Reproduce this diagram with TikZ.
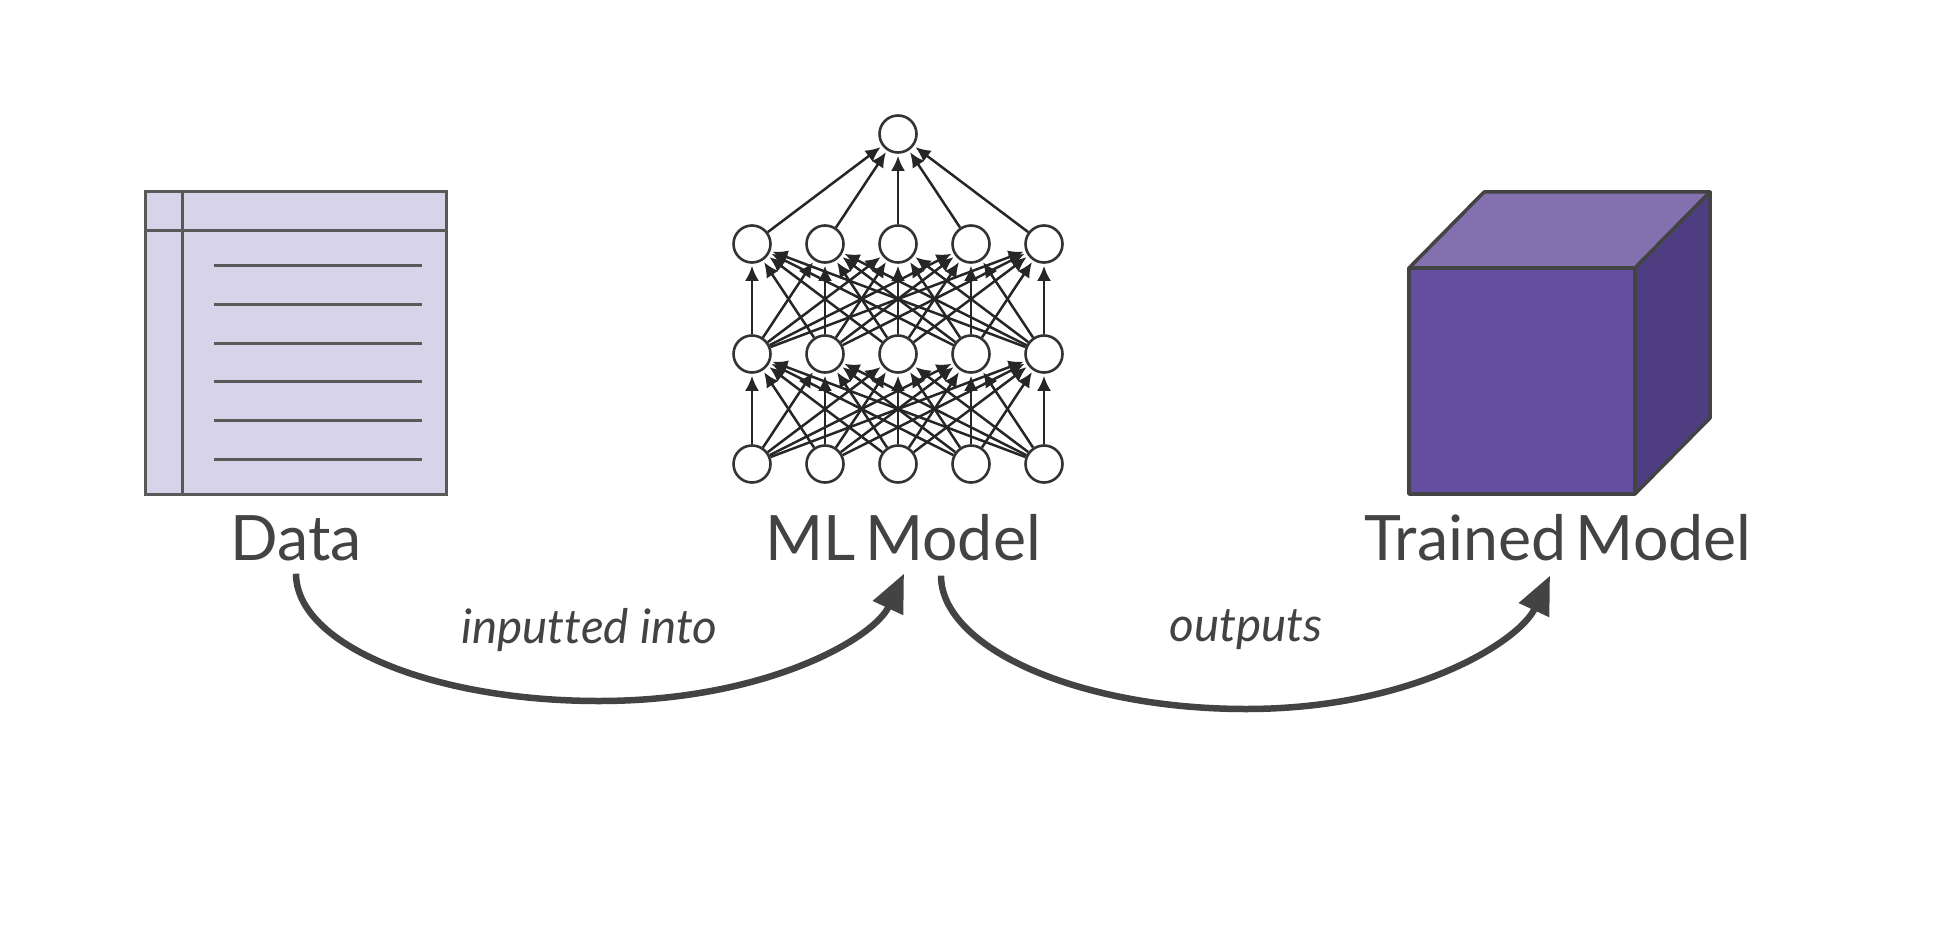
\documentclass[tikz,border=0pt]{standalone}
\usepackage{fontspec}
\setmainfont[Ligatures=NoCommon]{Lato}
\newfontfamily\capfont[WordSpace=.6]{Lato}
\usetikzlibrary{arrows.meta,calc}
\definecolor{inkgrey}{HTML}{434343}
\definecolor{tablefill}{HTML}{D7D3E8}
\definecolor{tableline}{HTML}{595959}
\definecolor{cubefront}{HTML}{654E9F}
\definecolor{cubetop}{HTML}{8270AF}
\definecolor{cubeside}{HTML}{4F3D82}
\tikzset{
  neuron/.style={circle,draw=black!80,line width=2.6pt,fill=white,minimum size=37pt,inner sep=0pt},
  synapse/.style={draw=black!85,line width=2.5pt,shorten >=2pt,-{Latex[length=15pt,width=14pt]}},
  caption/.style={text=inkgrey,anchor=base,inner sep=0pt,font=\capfont\fontsize{62.6}{72}\selectfont},
  flow/.style={draw=inkgrey,line width=6.5pt,-{Triangle[length=38pt,width=32pt]}},
  flowlabel/.style={text=inkgrey,inner sep=0pt,font=\itshape\fontsize{47.6}{54}\selectfont}
}
\begin{document}
\begin{tikzpicture}[x=1pt,y=-1pt]
\useasboundingbox (0,0) rectangle (1940,928);
% the table
\draw[fill=tablefill,draw=tableline,line width=3pt] (145,192) rectangle (446,494);
\draw[tableline,line width=3pt] (182,192) -- (182,494) (145,230) -- (446,230);
\foreach \ypos in {265,304,343,381,420,459}
  \draw[tableline,line width=3pt] (214,\ypos) -- (422,\ypos);
% the network, layer by layer
\node[neuron] (top) at (898,134) {};
\foreach \col/\xpos in {1/752,2/825,3/898,4/971,5/1044} {
  \node[neuron] (c\col) at (\xpos,244) {};
  \node[neuron] (b\col) at (\xpos,354) {};
  \node[neuron] (a\col) at (\xpos,464) {};
}
\foreach \col in {1,...,5} {
  \draw[synapse] (c\col) -- (top);
  \foreach \other in {1,...,5} {
    \draw[synapse] (a\col) -- (b\other);
    \draw[synapse] (b\col) -- (c\other);
  }
}
% the cube
\draw[fill=cubetop,draw=inkgrey,line width=3.5pt,line join=round] (1409,268) -- (1484,192) -- (1710,192) -- (1635,268) -- cycle;
\draw[fill=cubeside,draw=inkgrey,line width=3.5pt,line join=round] (1635,268) -- (1710,192) -- (1710,418) -- (1635,494) -- cycle;
\draw[fill=cubefront,draw=inkgrey,line width=3.5pt,line join=round] (1409,268) rectangle (1635,494);
% the captions
\node[caption] (data) at (296,560) {Data};
\node[caption] (model) at (903,560) {ML Model};
\node[caption] (trained) at (1558,560) {Trained Model};
% the two curved arrows and their labels
\coordinate (dipone) at (599,701);
\coordinate (diptwo) at (1246,709);
\draw[flow] ($(data.south)+(0,13)$) to[out=-90,in=180,out looseness=.55,in looseness=1.3] (dipone)
  to[out=0,in=-115,out looseness=1.3,in looseness=.55] ($(model.south)+(1,13)$);
\draw[flow] ($(model.south)+(38,15)$) to[out=-90,in=180,out looseness=.55,in looseness=1.3] (diptwo)
  to[out=0,in=-115,out looseness=1.3,in looseness=.55] ($(trained.south)+(-8,15)$);
\node[flowlabel] (inputted) at (589,630) {inputted into};
\node[flowlabel] (outputs) at (1246,630) {outputs};
\end{tikzpicture}
\end{document}
